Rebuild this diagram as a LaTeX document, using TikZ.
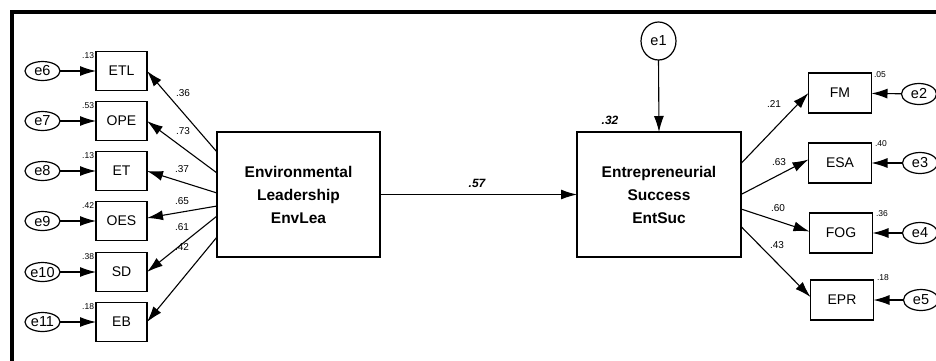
\documentclass[tikz,border=0pt]{standalone}
\usepackage{fontspec}
\setmainfont{Liberation Sans}
\usetikzlibrary{arrows.meta,shapes.geometric}

\begin{document}
\begin{tikzpicture}[y=1pt, x=1pt, yscale=-1, inner sep=0pt, outer sep=0pt,
  obs/.style={draw, line width=1.3pt, minimum width=51pt, minimum height=39pt, font=\fontsize{14}{15}\selectfont},
  err/.style={draw, ellipse, line width=1.2pt, minimum width=35pt, minimum height=19pt, font=\fontsize{14.5}{15}\selectfont},
  lat/.style={draw, line width=1.3pt, minimum width=163pt, minimum height=125pt, align=center, font=\fontsize{15.5}{23}\selectfont\bfseries},
  arr/.style={-{Latex[length=16pt,width=10pt]}, line width=1.1pt},
  rsq/.style={font=\fontsize{8.5}{9}\selectfont},
  coef/.style={font=\fontsize{10}{11}\selectfont},
  path/.style={font=\fontsize{12}{13}\selectfont\bfseries\itshape}]
\useasboundingbox (0,0) rectangle (936,360);
\draw[line width=4pt] (12,362) -- (12,12) -- (938,12);
% latent variables
\node[lat] (envlea) at (298.5,194.5) {Environmental\\Leadership\\EnvLea};
\node[lat, minimum width=164pt] (entsuc) at (659,194.5) {Entrepreneurial\\Success\\EntSuc};
\draw[arr] (envlea.east) -- (entsuc.west);
\node[path] (p57) at (477,183) {.57};
\node[err, minimum height=38pt] (e1) at (658.5,41) {e1};
\draw[arr] (e1.south) -- (entsuc.north);
\node[path] (r32) at (610,120) {.32};
% left indicators
\node[obs] (etl) at (121.5,71) {ETL};
\node[obs] (ope) at (121.5,121) {OPE};
\node[obs] (et) at (121.5,171) {ET};
\node[obs] (oes) at (121.5,221) {OES};
\node[obs] (sd) at (121.5,272) {SD};
\node[obs] (eb) at (121.5,322) {EB};
\node[err] (e6) at (42.5,71) {e6};
\node[err] (e7) at (42.5,121) {e7};
\node[err] (e8) at (42.5,171) {e8};
\node[err] (e9) at (42.5,221) {e9};
\node[err] (e10) at (42.5,272) {e10};
\node[err] (e11) at (42.5,322) {e11};
\draw[arr] (e6) -- (etl);
\draw[arr] (e7) -- (ope);
\draw[arr] (e8) -- (et);
\draw[arr] (e9) -- (oes);
\draw[arr] (e10) -- (sd);
\draw[arr] (e11) -- (eb);
\node[rsq, anchor=east] (r6) at (94,55.5) {.13};
\node[rsq, anchor=east] (r7) at (94,105.5) {.53};
\node[rsq, anchor=east] (r8) at (94,155.5) {.13};
\node[rsq, anchor=east] (r9) at (94,205.5) {.42};
\node[rsq, anchor=east] (r10) at (94,256.5) {.38};
\node[rsq, anchor=east] (r11) at (94,306.5) {.18};
% yshift is flipped by yscale=-1: negative moves up
\draw[arr] ([yshift=-42.5pt]envlea.west) -- (etl.east);
\draw[arr] ([yshift=-21.5pt]envlea.west) -- (ope.east);
\draw[arr] ([yshift=-1.5pt]envlea.west) -- (et.east);
\draw[arr] ([yshift=11.5pt]envlea.west) -- ([yshift=-3pt]oes.east);
\draw[arr] ([yshift=21.5pt]envlea.west) -- (sd.east);
\draw[arr] ([yshift=42.5pt]envlea.west) -- (eb.east);
\node[coef] (c6) at (183,93) {.36};
\node[coef] (c7) at (183,131) {.73};
\node[coef] (c8) at (182,169) {.37};
\node[coef] (c9) at (182,201) {.65};
\node[coef] (c10) at (182,227) {.61};
\node[coef] (c11) at (182,247) {.42};
% right indicators
\node[obs, minimum width=63pt, minimum height=40pt] (fm) at (840,93) {FM};
\node[obs, minimum width=63pt, minimum height=40pt] (esa) at (840,163) {ESA};
\node[obs, minimum width=63pt, minimum height=40pt] (fog) at (841,233) {FOG};
\node[obs, minimum width=63pt, minimum height=40pt] (epr) at (842,300) {EPR};
\node[err, minimum height=21pt] (e2) at (919,94) {e2};
\node[err, minimum height=21pt] (e3) at (920,163) {e3};
\node[err, minimum height=21pt] (e4) at (920,233) {e4};
\node[err, minimum height=21pt] (e5) at (921,300) {e5};
\draw[arr] (e2) -- (fm);
\draw[arr] (e3) -- (esa);
\draw[arr] (e4) -- (fog);
\draw[arr] (e5) -- (epr);
\node[rsq, anchor=west] (r2) at (874,75) {.05};
\node[rsq, anchor=west] (r3) at (875,144) {.40};
\node[rsq, anchor=west] (r4) at (876,214) {.36};
\node[rsq, anchor=west] (r5) at (877,278) {.18};
\draw[arr] ([yshift=-31pt]entsuc.east) -- (fm.west);
\draw[arr] (entsuc.east) -- ([yshift=-3.5pt]esa.west);
\draw[arr] ([yshift=14.5pt]entsuc.east) -- ([yshift=-1.5pt]fog.west);
\draw[arr] ([yshift=32pt]entsuc.east) -- ([yshift=-3pt]epr.west);
\node[coef] (c2) at (774,104) {.21};
\node[coef] (c3) at (779,162) {.63};
\node[coef] (c4) at (778,208) {.60};
\node[coef] (c5) at (777,245) {.43};
\end{tikzpicture}
\end{document}
